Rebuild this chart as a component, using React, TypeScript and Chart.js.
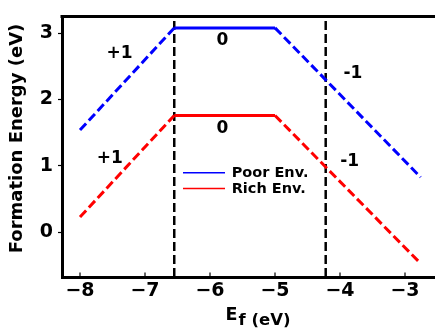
import React, { useEffect, useRef } from "react";
import { Chart, registerables } from "chart.js";

Chart.register(...registerables);

const fermiLevels = [-8, -6.55, -5, -2.76];
const poorEnergies = [1.54, 3.08, 3.08, 0.83];
const richEnergies = [0.23, 1.76, 1.76, -0.47];
const transitionLevels = [-6.55, -4.22];
const xTicks = [-8, -7, -6, -5, -4, -3];
const yTicks = [0, 1, 2, 3];
const xRange = [-8.277, -2.2];
const yRange = [-0.674, 3.253];
const seriesNames = ["Poor Env.", "Rich Env."];
const seriesColors = ["#0000ff", "#ff0000"];
const chargeLabels = ["+1", "0", "-1", "+1", "0", "-1"];
const chargeX = [-7.39, -5.81, -3.8, -7.54, -5.81, -3.85];
const chargeY = [2.7, 2.89, 2.39, 1.11, 1.56, 1.07];

const FONT = "'DejaVu Sans', sans-serif";

const fmt = (v: number) => (v < 0 ? "\u2212" + Math.abs(v) : String(v));

const overlay = {
  id: "overlay",
  afterDraw(chart: any) {
    const { ctx, chartArea: a, scales } = chart;
    const xs = scales.x;
    const ys = scales.y;
    ctx.save();
    ctx.strokeStyle = "#000";
    ctx.lineWidth = 3;
    ctx.beginPath();
    ctx.moveTo(a.left - 1.5, a.top);
    ctx.lineTo(a.right, a.top);
    ctx.stroke();

    ctx.lineWidth = 1.2;
    xTicks.forEach((v) => {
      const px = xs.getPixelForValue(v);
      ctx.beginPath();
      ctx.moveTo(px, a.bottom);
      ctx.lineTo(px, a.bottom - 4.5);
      ctx.stroke();
    });

    ctx.fillStyle = "#000";
    ctx.font = `bold 17px ${FONT}`;
    ctx.textAlign = "center";
    ctx.textBaseline = "middle";
    chargeLabels.forEach((t, i) => {
      ctx.fillText(t, xs.getPixelForValue(chargeX[i]), ys.getPixelForValue(chargeY[i]));
    });

    // legend
    const lx0 = a.left + 121;
    const ly0 = a.top + 156.3;
    ctx.font = `bold 14.5px ${FONT}`;
    ctx.textAlign = "left";
    seriesNames.forEach((name, i) => {
      const ly = ly0 + i * 15.7;
      ctx.strokeStyle = seriesColors[i];
      ctx.lineWidth = 1.5;
      ctx.beginPath();
      ctx.moveTo(lx0, ly);
      ctx.lineTo(lx0 + 42, ly);
      ctx.stroke();
      ctx.fillStyle = "#000";
      ctx.fillText(name, lx0 + 48.7, ly + 0.5);
    });

    // x title
    ctx.textBaseline = "alphabetic";
    ctx.font = `bold 17.5px ${FONT}`;
    const wE = ctx.measureText("E").width;
    ctx.font = `bold 16.5px ${FONT}`;
    const wRest = ctx.measureText("f (eV)").width;
    const startX = 258 - (wE + wRest + 1) / 2;
    ctx.font = `bold 17.5px ${FONT}`;
    ctx.fillText("E", startX, 319.5);
    ctx.font = `bold 16.5px ${FONT}`;
    ctx.fillText("f (eV)", startX + wE + 1, 325);

    // y title
    ctx.translate(17.5, 138.5);
    ctx.rotate(-Math.PI / 2);
    ctx.textAlign = "center";
    ctx.textBaseline = "middle";
    ctx.font = `bold 18px ${FONT}`;
    ctx.fillText("Formation Energy (eV)", 0, 0);
    ctx.restore();
  },
};

export default function App() {
  const ref = useRef<HTMLCanvasElement>(null);
  useEffect(() => {
    if (!ref.current) return;
    const dashSeg = (ctx: any) => (ctx.p0DataIndex === 1 ? [] : [9, 4]);
    const mk = (vals: number[], i: number) => ({
      label: seriesNames[i],
      data: fermiLevels.map((x, k) => ({ x, y: vals[k] })),
      borderColor: seriesColors[i],
      backgroundColor: seriesColors[i],
      borderWidth: 3,
      pointRadius: 0,
      fill: false,
      tension: 0,
      borderCapStyle: "butt" as const,
      segment: { borderDash: dashSeg },
    });
    const vlines = transitionLevels.map((t) => ({
      label: "transition",
      data: [
        { x: t, y: yRange[0] },
        { x: t, y: yRange[1] },
      ],
      borderColor: "#000",
      borderWidth: 2.5,
      borderDash: [9, 4],
      pointRadius: 0,
      fill: false,
    }));
    const chart = new Chart(ref.current, {
      type: "line",
      data: {
        datasets: [mk(poorEnergies, 0), mk(richEnergies, 1), ...vlines] as any,
      },
      options: {
        animation: false,
        responsive: false,
        devicePixelRatio: 1,
        layout: { padding: { left: 0, top: 13, right: 13, bottom: 0 } },
        plugins: { legend: { display: false }, tooltip: { enabled: false } },
        scales: {
          x: {
            type: "linear",
            min: xRange[0],
            max: xRange[1],
            afterFit: (s: any) => {
              s.height = 52;
            },
            afterBuildTicks: (s: any) => {
              s.ticks = xTicks.map((v) => ({ value: v }));
            },
            grid: { display: true, drawOnChartArea: false, drawTicks: false },
            border: { display: true, color: "#000", width: 3 },
            ticks: {
              color: "#000",
              padding: 3,
              font: { family: FONT, size: 19, weight: "bold" },
              callback: (v: any) => fmt(Number(v)),
              maxRotation: 0,
              autoSkip: false,
            },
          },
          y: {
            type: "linear",
            min: yRange[0],
            max: yRange[1],
            afterFit: (s: any) => {
              s.width = 62;
            },
            afterBuildTicks: (s: any) => {
              s.ticks = yTicks.map((v) => ({ value: v }));
            },
            grid: {
              display: true,
              drawOnChartArea: false,
              drawTicks: true,
              tickLength: 4,
              tickWidth: 1.2,
              tickColor: "#000",
            },
            border: { display: true, color: "#000", width: 3 },
            ticks: {
              color: "#000",
              padding: 5,
              font: { family: FONT, size: 19, weight: "bold" },
              callback: (v: any) => fmt(Number(v)),
              autoSkip: false,
            },
          },
        },
      } as any,
      plugins: [overlay],
    });
    return () => chart.destroy();
  }, []);
  return (
    <div
      style={{
        position: "fixed",
        left: 0,
        top: 0,
        width: 435,
        height: 329,
        overflow: "hidden",
        background: "#fff",
      }}
    >
      <canvas ref={ref} width={470} height={329} style={{ width: 470, height: 329, display: "block" }} />
    </div>
  );
}
